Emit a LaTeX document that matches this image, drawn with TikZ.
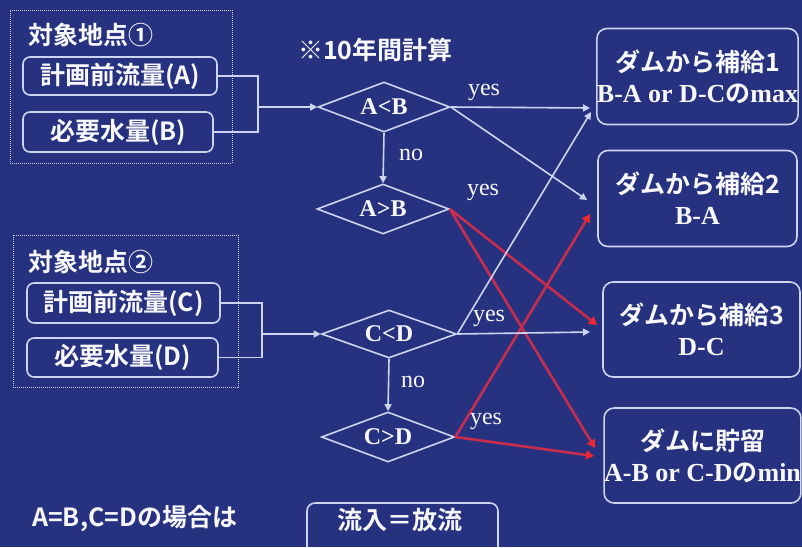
\documentclass[tikz,border=0pt]{standalone}
\usepackage{fontspec}
\setmainfont{Liberation Serif}
\newfontfamily\jp{Noto Sans CJK JP Bold}
\usetikzlibrary{arrows.meta,shapes.geometric,calc}
\definecolor{bg}{RGB}{38,50,128}
\definecolor{ln}{RGB}{205,212,240}
\definecolor{rl}{RGB}{200,45,78}
\definecolor{rh}{RGB}{238,40,45}
\definecolor{tx}{RGB}{248,248,252}
\begin{document}
\begin{tikzpicture}[x=1pt,y=-1pt,
  jtext/.style={text=tx,font=\jp\fontsize{25}{30}\selectfont,inner sep=0pt},
  lbl/.style={text=tx,font=\fontsize{24}{26}\selectfont,inner sep=0pt},
  inbox/.style={draw=ln,line width=1.6pt,rounded corners=7pt,text=tx,font=\jp\fontsize{25}{30}\selectfont,inner sep=0pt},
  outbox/.style={draw=ln,line width=1.6pt,rounded corners=10pt,text=tx,align=center,font=\jp\fontsize{25}{31}\selectfont,inner sep=0pt,minimum width=197pt,minimum height=96pt},
  frame/.style={draw=ln,line width=1pt,densely dotted,inner sep=0pt},
  dia/.style={draw=ln,line width=1.6pt,diamond,aspect=2.64,inner sep=0pt,minimum width=132pt,minimum height=50pt,text=tx,font=\bfseries\fontsize{24}{26}\selectfont},
  wline/.style={draw=ln,line width=1.6pt},
  warr/.style={wline,-{Triangle[length=7pt,width=7pt]}},
  rarr/.style={draw=rl,line width=2.6pt,-{Triangle[length=8pt,width=9pt,color=rh]}}
]
\newcommand\srf[1]{{\rmfamily\bfseries\fontsize{26}{31}\selectfont #1}}
\useasboundingbox[fill=bg] (0,0) rectangle (802,547);

% site 1
\node[frame,minimum width=222pt,minimum height=153pt] (S1) at (121,86.5) {};
\node[jtext,anchor=west] (S1t) at (28,35) {対象地点①};
\node[inbox,minimum width=194pt,minimum height=38pt] (A) at (120,76) {計画前流量(A)};
\node[inbox,minimum width=190pt,minimum height=40pt] (B) at (118,132) {必要水量(B)};
\coordinate (j1) at (258,107);

% site 2
\node[frame,minimum width=225pt,minimum height=152pt] (S2) at (125.5,311) {};
\node[jtext,anchor=west] (S2t) at (28,262) {対象地点②};
\node[inbox,minimum width=193pt,minimum height=40pt] (C) at (123.5,303) {計画前流量(C)};
\node[inbox,minimum width=191pt,minimum height=39pt] (D) at (122.5,357.5) {必要水量(D)};
\coordinate (j2) at (262,334);

\node[jtext,anchor=west] (note) at (298,50) {※10年間計算};

% diamonds
\node[dia] (AltB) at (384,107) {A<B};
\node[dia] (AgtB) at (383,209) {A>B};
\node[dia,minimum width=135pt,minimum height=48pt] (CltD) at (389,334) {C<D};
\node[dia,minimum width=133pt] (CgtD) at (388,437) {C>D};

% result boxes
\node[outbox,minimum width=199pt] (R1) at (697.5,76.5) {ダムから補給1\\\srf{B-A or D-C}の\srf{max}};
\node[outbox,minimum width=199pt] (R2) at (697.5,198.5) {ダムから補給2\\\srf{B-A}};
\node[outbox,minimum height=95pt] (R3) at (701.5,329.5) {ダムから補給3\\\srf{D-C}};
\node[outbox,minimum width=191pt,minimum height=95pt] (R4) at (702.5,455.5) {ダムに貯留\\\srf{A-B or C-D}の\srf{min}};

% bottom
\node[jtext,anchor=west] (eq) at (32,519) {A=B,C=Dの場合は};
\node[jtext] (flow) at (400,520) {流入＝放流};
\draw[wline,rounded corners=8pt] (307,547) -- (307,503) -- (498,503) -- (498,547);

% arrival points
\coordinate (p1a) at (590,108);
\coordinate (p1b) at (591,112);
\coordinate (p2a) at (587,200);
\coordinate (p2b) at (590,214);
\coordinate (p3a) at (597,325);
\coordinate (p3b) at (590,332);
\coordinate (p4a) at (595,448);
\coordinate (p4b) at (594,456);

% input connectors
\draw[wline] (A.east) -| (j1);
\draw[wline] (B.east) -| (j1);
\draw[warr] (j1) -- (AltB.west);
\draw[wline] (C.east) -| (j2);
\draw[wline] (D.east) -| (j2);
\draw[warr] (j2) -- (CltD.west);

% no
\draw[warr] (AltB.south) -- (AgtB.north);
\draw[warr] (CltD.south) -- (CgtD.north);
\node[lbl] (no1) at (411,155) {no};
\node[lbl] (no2) at (413,382) {no};

% red
\draw[rarr] (AgtB.east) -- (p3a);
\draw[rarr] (AgtB.east) -- (p4a);
\draw[rarr] (CgtD.east) -- (p2b);
\draw[rarr] (CgtD.east) -- (p4b);

% white
\draw[warr] (AltB.east) -- (p1a);
\draw[warr] (AltB.east) -- (p2a);
\draw[warr] (CltD.east) -- (p3b);
\draw[warr] (CltD.east) -- (p1b);

\node[lbl] (y1) at (484,92) {yes};
\node[lbl] (y2) at (483,192) {yes};
\node[lbl] (y3) at (489,318) {yes};
\node[lbl] (y4) at (486,421) {yes};
\end{tikzpicture}
\end{document}
